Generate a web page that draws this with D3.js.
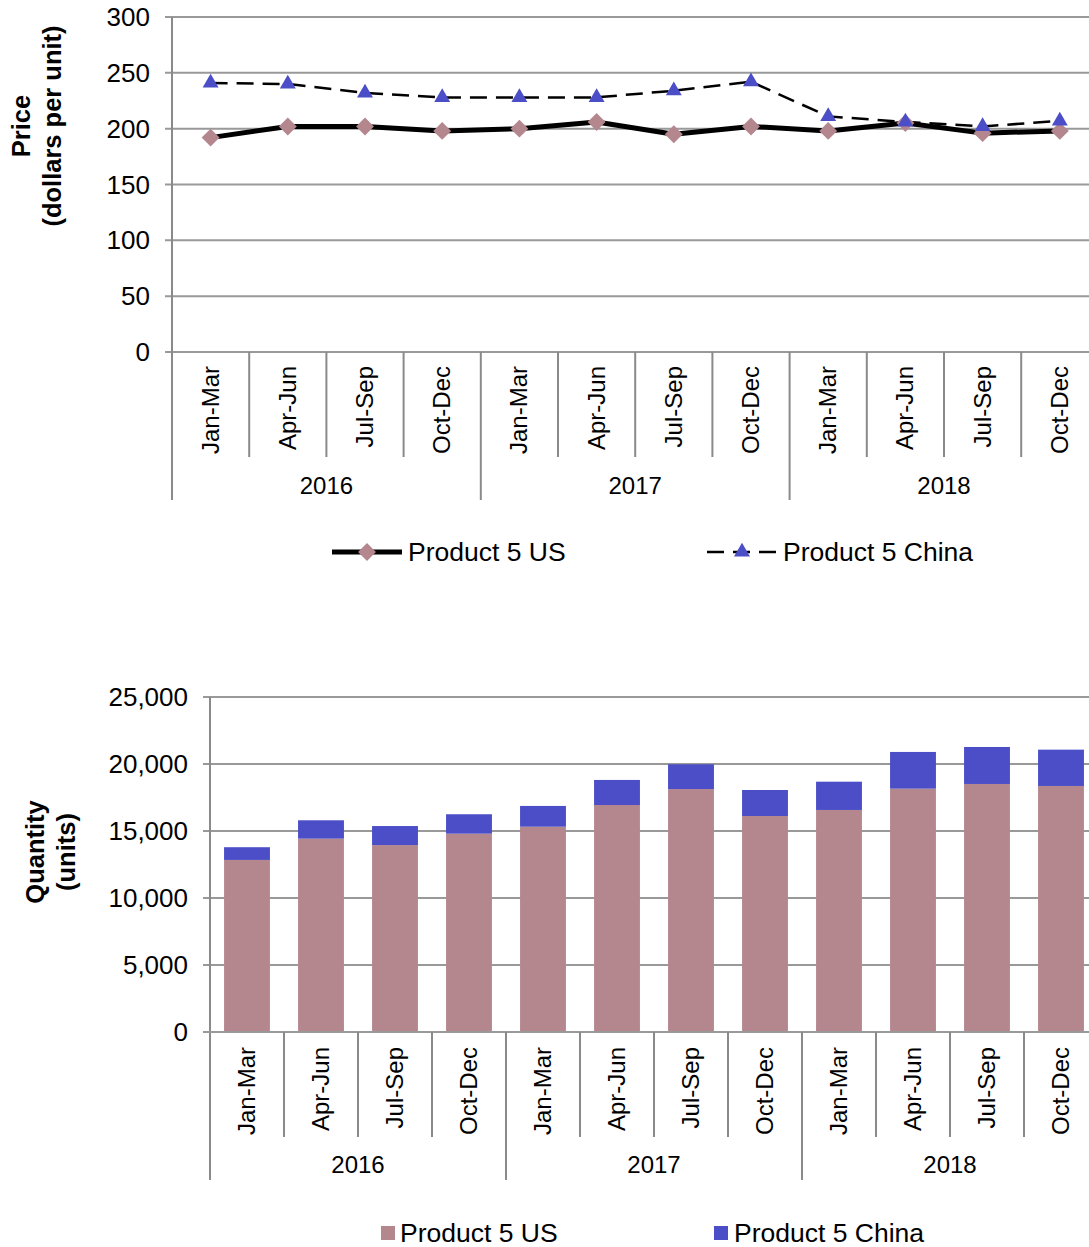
<!DOCTYPE html>
<html>
<head>
<meta charset="utf-8">
<script src="https://cdn.jsdelivr.net/npm/d3@7"></script>
<style>
  html, body { margin: 0; padding: 0; background: #fff; }
  svg { display: block; font-family: "Liberation Sans", Arial, sans-serif; }
</style>
</head>
<body>
<svg id="chart" width="1089" height="1247"></svg>
<script>
// Quarterly periods and their years
const quarters = ["Jan-Mar", "Apr-Jun", "Jul-Sep", "Oct-Dec"];
const years = ["2016", "2017", "2018"];
const periods = years.flatMap(y => quarters.map(q => ({ year: y, quarter: q, key: y + " " + q })));

// Price (dollars per unit)
const priceUS = [192, 202, 202, 198, 200, 206, 195, 202, 198, 205, 196, 198];
const priceChina = [241, 240, 232, 228, 228, 228, 234, 242, 211, 206, 202, 207];
const priceTicks = [0, 50, 100, 150, 200, 250, 300];

// Quantity (units)
const qtyUS = [12840, 14430, 13950, 14800, 15320, 16940, 18130, 16120, 16570, 18160, 18510, 18360];
const qtyChina = [950, 1370, 1420, 1450, 1550, 1870, 1850, 1940, 2110, 2740, 2760, 2710];
const qtyTicks = [0, 5000, 10000, 15000, 20000, 25000];

const seriesNames = ["Product 5 US", "Product 5 China"];
const colorUS = "#b4878f";
const colorChina = "#4b4ec6";
const gridColor = "#999999";
const axisColor = "#8a8a8a";

const svg = d3.select("#chart");

// Shared category axis with quarter labels and grouped year labels
function drawCategoryAxis(g, x, yBase, sepLen, yearLen, labelTop, yearBaseline) {
  const step = x.step();
  const x0 = x.range()[0];
  // quarter separators
  d3.range(1, periods.length).forEach(i => {
    const isYear = i % 4 === 0;
    g.append("line")
      .attr("x1", x0 + i * step).attr("x2", x0 + i * step)
      .attr("y1", yBase).attr("y2", yBase + (isYear ? yearLen : sepLen))
      .attr("stroke", axisColor).attr("stroke-width", 2);
  });
  // quarter labels
  g.selectAll("text.q").data(periods).join("text")
    .attr("class", "q")
    .attr("transform", d => `translate(${x(d.key) + x.bandwidth() / 2 + 8},${labelTop}) rotate(-90)`)
    .attr("text-anchor", "end")
    .attr("font-size", 24)
    .attr("fill", "#000")
    .text(d => d.quarter);
  // year labels
  g.selectAll("text.y").data(years).join("text")
    .attr("class", "y")
    .attr("x", (d, i) => x0 + (i * 4 + 2) * step)
    .attr("y", yearBaseline)
    .attr("text-anchor", "middle")
    .attr("font-size", 24)
    .attr("fill", "#000")
    .text(d => d);
}

function drawValueAxis(g, x, y, ticks, fmt, bottomExtent) {
  const x0 = x.range()[0];
  const x1 = x.range()[1];
  // gridlines
  g.selectAll("line.grid").data(ticks).join("line")
    .attr("class", "grid")
    .attr("x1", x0 - 7).attr("x2", x1)
    .attr("y1", d => y(d)).attr("y2", d => y(d))
    .attr("stroke", gridColor).attr("stroke-width", 2);
  // axis line
  g.append("line")
    .attr("x1", x0).attr("x2", x0)
    .attr("y1", y(ticks[ticks.length - 1])).attr("y2", bottomExtent)
    .attr("stroke", axisColor).attr("stroke-width", 2);
  // tick labels
  g.selectAll("text.tick").data(ticks).join("text")
    .attr("class", "tick")
    .attr("x", x0 - 22)
    .attr("y", d => y(d))
    .attr("dy", "0.35em")
    .attr("text-anchor", "end")
    .attr("font-size", 26)
    .attr("fill", "#000")
    .text(fmt);
}

// ---------- Price line chart ----------
{
  const g = svg.append("g");
  const x = d3.scaleBand().domain(periods.map(d => d.key)).range([172, 172 + 12 * 77.2]);
  const y = d3.scaleLinear().domain([0, 300]).range([352, 17]);

  drawValueAxis(g, x, y, priceTicks, d => d3.format("d")(d), 500);
  drawCategoryAxis(g, x, 352, 105, 148, 366, 494);

  const cx = (d, i) => x(periods[i].key) + x.bandwidth() / 2;

  const line = d3.line().x((d, i) => cx(d, i)).y(d => y(d));

  g.append("path").datum(priceChina)
    .attr("d", line).attr("fill", "none")
    .attr("stroke", "#000").attr("stroke-width", 2.5)
    .attr("stroke-dasharray", "17,9");
  g.append("path").datum(priceUS)
    .attr("d", line).attr("fill", "none")
    .attr("stroke", "#000").attr("stroke-width", 5)
    .attr("stroke-linejoin", "round");

  const diamond = d3.symbol().type(d3.symbolSquare).size(160);
  const tri = d3.symbol().type(d3.symbolTriangle).size(110);

  g.selectAll("path.us").data(priceUS).join("path")
    .attr("class", "us")
    .attr("transform", (d, i) => `translate(${cx(d, i)},${y(d)}) rotate(45)`)
    .attr("d", diamond).attr("fill", colorUS);
  g.selectAll("path.cn").data(priceChina).join("path")
    .attr("class", "cn")
    .attr("transform", (d, i) => `translate(${cx(d, i)},${y(d)})`)
    .attr("d", tri).attr("fill", colorChina);

  // y title
  const t = g.append("text")
    .attr("transform", "translate(30,126) rotate(-90)")
    .attr("text-anchor", "middle")
    .attr("font-size", 25.5).attr("font-weight", "bold").attr("fill", "#000");
  t.append("tspan").attr("x", 0).attr("dy", 0).text("Price");
  t.append("tspan").attr("x", 0).attr("dy", 31).text("(dollars per unit)");

  // legend
  const lg = g.append("g");
  lg.append("line").attr("x1", 332).attr("x2", 402).attr("y1", 552).attr("y2", 552)
    .attr("stroke", "#000").attr("stroke-width", 5);
  lg.append("path").attr("transform", "translate(367,552) rotate(45)").attr("d", diamond).attr("fill", colorUS);
  lg.append("text").attr("x", 408).attr("y", 561).attr("font-size", 26.5).attr("fill", "#000").text(seriesNames[0]);

  lg.append("line").attr("x1", 707).attr("x2", 777).attr("y1", 552).attr("y2", 552)
    .attr("stroke", "#000").attr("stroke-width", 2.5).attr("stroke-dasharray", "17,9");
  lg.append("path").attr("transform", "translate(742,552)").attr("d", tri).attr("fill", colorChina);
  lg.append("text").attr("x", 783).attr("y", 561).attr("font-size", 26.5).attr("fill", "#000").text(seriesNames[1]);
}

// ---------- Quantity stacked bar chart ----------
{
  const g = svg.append("g");
  const x = d3.scaleBand().domain(periods.map(d => d.key)).range([210, 210 + 12 * 74]).paddingInner(0.38).paddingOuter(0.19);
  const xc = d3.scaleBand().domain(periods.map(d => d.key)).range([210, 210 + 12 * 74]);
  const y = d3.scaleLinear().domain([0, 25000]).range([1032, 697]);

  drawValueAxis(g, xc, y, qtyTicks, d => d3.format(",")(d), 1180);

  const rows = periods.map((p, i) => ({ key: p.key, us: qtyUS[i], china: qtyChina[i] }));
  const stacked = d3.stack().keys(["us", "china"])(rows);
  const colors = [colorUS, colorChina];

  g.selectAll("g.layer").data(stacked).join("g")
    .attr("class", "layer")
    .attr("fill", (d, i) => colors[i])
    .selectAll("rect").data(d => d).join("rect")
    .attr("x", d => x(d.data.key))
    .attr("width", x.bandwidth())
    .attr("y", d => y(d[1]))
    .attr("height", d => y(d[0]) - y(d[1]));

  // redraw baseline over bars
  g.append("line").attr("x1", 203).attr("x2", 1089).attr("y1", y(0)).attr("y2", y(0))
    .attr("stroke", gridColor).attr("stroke-width", 2);

  drawCategoryAxis(g, xc, 1032, 105, 148, 1047, 1173);

  const t = g.append("text")
    .attr("transform", "translate(44,852) rotate(-90)")
    .attr("text-anchor", "middle")
    .attr("font-size", 25.5).attr("font-weight", "bold").attr("fill", "#000");
  t.append("tspan").attr("x", 0).attr("dy", 0).text("Quantity");
  t.append("tspan").attr("x", 0).attr("dy", 31).text("(units)");

  const lg = g.append("g");
  lg.append("rect").attr("x", 381).attr("y", 1226).attr("width", 14).attr("height", 14).attr("fill", colorUS);
  lg.append("text").attr("x", 400).attr("y", 1242).attr("font-size", 26.5).attr("fill", "#000").text(seriesNames[0]);
  lg.append("rect").attr("x", 714).attr("y", 1226).attr("width", 14).attr("height", 14).attr("fill", colorChina);
  lg.append("text").attr("x", 734).attr("y", 1242).attr("font-size", 26.5).attr("fill", "#000").text(seriesNames[1]);
}
</script>
</body>
</html>
